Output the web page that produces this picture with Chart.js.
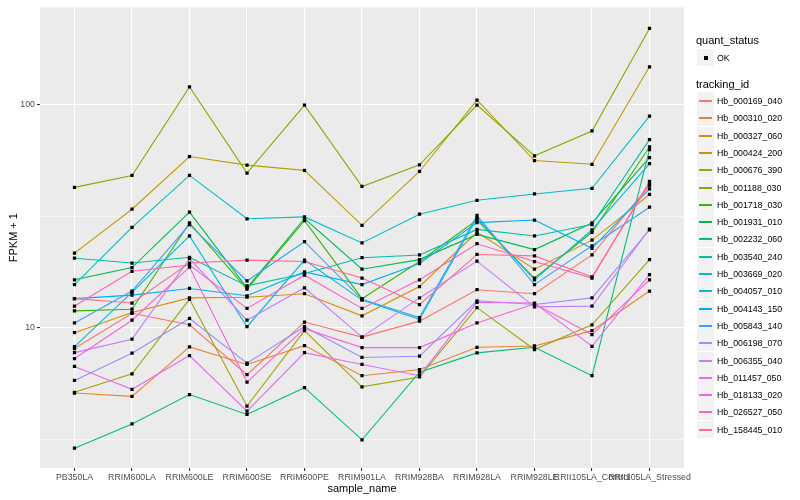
<!DOCTYPE html>
<html>
<head>
<meta charset="utf-8">
<script src="https://cdn.jsdelivr.net/npm/chart.js@4.4.1/dist/chart.umd.min.js"></script>
<style>
  body { margin: 0; background: #fff; font-family: "Liberation Sans", Arial, sans-serif; }
  #wrap { position: relative; width: 800px; height: 500px; }
  #legend { position: absolute; left: 696px; top: 0; }
  .ttl { position: absolute; left: 0; font-size: 11px; color: #000; white-space: nowrap; }
  .key { position: absolute; left: 1px; width: 17px; height: 17px; background: #f2f2f2; }
  .lab { position: absolute; left: 21px; font-size: 8.8px; color: #000; white-space: nowrap; line-height: 10px; }
</style>
</head>
<body>
<div id="wrap">
  <canvas id="chart" width="800" height="500"></canvas>
  <div id="legend"></div>
</div>
<script>
// 샘플 (x축)
const samples = ["PB350LA", "RRIM600LA", "RRIM600LE", "RRIM600SE", "RRIM600PE", "RRIM901LA",
  "RRIM928BA", "RRIM928LA", "RRIM928LE", "RRII105LA_Control", "RRII105LA_Stressed"];

// FPKM + 1 값 (tracking_id 별)
const hb_000169_040 = [8.06, 11.6, 10.3, 6.15, 10.6, 9.07, 10.7, 14.8, 14.2, 21.2, 43.5];
const hb_000310_020 = [5.09, 4.92, 8.20, 6.84, 8.31, 6.09, 6.49, 8.17, 8.28, 9.70, 14.6];
const hb_000327_060 = [9.50, 11.7, 13.6, 13.7, 14.2, 11.3, 15.3, 26.8, 18.3, 24.7, 39.6];
const hb_000424_200 = [21.6, 34.0, 58.6, 53.6, 50.8, 28.8, 50.2, 105, 56.2, 54.1, 148];
const hb_000676_390 = [5.13, 6.21, 13.4, 4.45, 9.70, 5.43, 6.01, 12.3, 7.98, 10.3, 20.2];
const hb_001188_030 = [42.6, 48.2, 120.3, 49.4, 99.7, 43.0, 53.8, 99.7, 59.0, 76.3, 220];
const hb_001718_030 = [11.9, 12.1, 29.5, 14.9, 30.2, 13.5, 19.8, 30.4, 16.7, 26.8, 64.7];
const hb_001931_010 = [16.4, 18.6, 33.0, 15.1, 30.9, 18.3, 20.2, 26.2, 22.4, 29.5, 58.0];
const hb_002232_060 = [2.88, 3.70, 5.01, 4.08, 5.38, 3.14, 6.32, 7.71, 8.17, 6.09, 63.0];
const hb_003540_240 = [20.5, 19.5, 20.7, 15.4, 17.5, 20.6, 21.2, 27.6, 25.8, 29.0, 69.8];
const hb_003669_020 = [15.6, 28.2, 48.2, 30.8, 31.4, 24.0, 32.3, 37.3, 39.8, 42.2, 89.0];
const hb_004057_010 = [8.23, 14.4, 25.8, 10.1, 20.1, 13.3, 10.9, 31.1, 16.4, 27.5, 54.5];
const hb_004143_150 = [13.5, 14.0, 15.0, 13.9, 17.8, 15.6, 19.4, 29.6, 30.4, 22.7, 42.0];
const hb_005843_140 = [10.5, 14.6, 29.0, 16.2, 24.3, 13.4, 11.1, 31.9, 15.6, 23.3, 34.7];
const hb_006198_070 = [5.80, 7.68, 11.0, 6.93, 10.1, 7.35, 7.45, 13.2, 12.7, 13.6, 27.5];
const hb_006355_040 = [7.73, 8.88, 20.4, 10.8, 15.1, 9.07, 13.6, 19.9, 12.4, 12.5, 27.7];
const hb_011457_050 = [6.70, 5.29, 7.50, 4.22, 7.73, 6.84, 6.09, 13.0, 12.9, 8.25, 17.3];
const hb_018133_020 = [7.27, 10.8, 18.7, 5.70, 9.90, 8.14, 8.14, 10.5, 12.8, 9.31, 16.4];
const hb_026527_050 = [12.5, 17.9, 19.1, 12.2, 17.2, 12.2, 16.4, 23.8, 19.8, 16.7, 45.3];
const hb_158445_010 = [13.5, 12.9, 19.5, 20.1, 19.8, 16.7, 12.7, 21.3, 21.0, 16.9, 44.4];

const trackingIds = ["Hb_000169_040", "Hb_000310_020", "Hb_000327_060", "Hb_000424_200",
  "Hb_000676_390", "Hb_001188_030", "Hb_001718_030", "Hb_001931_010", "Hb_002232_060",
  "Hb_003540_240", "Hb_003669_020", "Hb_004057_010", "Hb_004143_150", "Hb_005843_140",
  "Hb_006198_070", "Hb_006355_040", "Hb_011457_050", "Hb_018133_020", "Hb_026527_050",
  "Hb_158445_010"];
const seriesValues = [hb_000169_040, hb_000310_020, hb_000327_060, hb_000424_200,
  hb_000676_390, hb_001188_030, hb_001718_030, hb_001931_010, hb_002232_060,
  hb_003540_240, hb_003669_020, hb_004057_010, hb_004143_150, hb_005843_140,
  hb_006198_070, hb_006355_040, hb_011457_050, hb_018133_020, hb_026527_050,
  hb_158445_010];

const yTicks = [3.1623, 10, 31.623, 100];
const yMajor = [10, 100];

// ggplot 기본 색상 (hue 20개)
const palette = ["#F8766D", "#EA8331", "#D89000", "#C09B00", "#A3A500", "#7CAE00", "#39B600",
  "#00BB4E", "#00BF7D", "#00C1A3", "#00BFC4", "#00BAE0", "#00B0F6", "#35A2FF", "#9590FF",
  "#C77CFF", "#E76BF3", "#FA62DB", "#FF62BC", "#FF6C91"];

const toPoints = (vals) => vals.map((v, i) => ({ x: i, y: v }));

const lineSets = seriesValues.map((vals, k) => ({
  label: trackingIds[k],
  data: toPoints(vals),
  borderColor: palette[k],
  borderWidth: 1.1,
  pointRadius: 0,
  showLine: true,
  fill: false,
  tension: 0,
  order: 100 - k,
}));

// 점은 모든 선 위에 그림
const pointSet = {
  label: "OK",
  data: seriesValues.flatMap(toPoints),
  showLine: false,
  pointStyle: "rect",
  pointRadius: 2.3,
  pointBorderWidth: 0,
  pointBackgroundColor: "#000",
  pointBorderColor: "#000",
  order: 0,
};

const panelBg = {
  id: "panelBg",
  beforeDraw(chart) {
    const { ctx, chartArea: a } = chart;
    ctx.save();
    ctx.fillStyle = "#EBEBEB";
    ctx.fillRect(a.left, a.top, a.right - a.left, a.bottom - a.top);
    ctx.restore();
  },
};

const tickFont = { family: "Liberation Sans", size: 8.8 };
const titleFont = { family: "Liberation Sans", size: 11 };

new Chart(document.getElementById("chart"), {
  type: "scatter",
  data: { datasets: [pointSet, ...lineSets] },
  options: {
    responsive: false,
    animation: false,
    devicePixelRatio: 1,
    layout: { padding: { left: 0, top: 5, right: 116, bottom: 0 } },
    plugins: { legend: { display: false }, tooltip: { enabled: false } },
    scales: {
      x: {
        type: "linear",
        min: -0.6,
        max: 10.6,
        afterBuildTicks: (s) => { s.ticks = samples.map((_, i) => ({ value: i })); },
        afterFit: (s) => { s.height = 32; },
        border: { display: false },
        grid: { color: "#FFFFFF", lineWidth: 1.1, tickLength: 3, tickColor: "#333333" },
        ticks: {
          autoSkip: false, maxRotation: 0, padding: 1, color: "#4D4D4D", font: tickFont,
          callback: (v) => samples[v],
        },
        title: { display: true, text: "sample_name", color: "#000", font: titleFont, padding: { top: 0, bottom: 4.4 } },
      },
      y: {
        type: "logarithmic",
        min: 2.347,
        max: 273.8,
        afterBuildTicks: (s) => { s.ticks = yTicks.map((v) => ({ value: v })); },
        afterFit: (s) => { s.width = 40; },
        border: { display: false },
        grid: {
          color: "#FFFFFF",
          lineWidth: (c) => (yMajor.includes(c.tick && c.tick.value) ? 1.1 : 0.55),
          tickLength: 3,
          tickColor: (c) => (yMajor.includes(c.tick && c.tick.value) ? "#333333" : "rgba(0,0,0,0)"),
        },
        ticks: {
          padding: 2, color: "#4D4D4D", font: tickFont,
          callback: (v) => (yMajor.includes(v) ? String(v) : ""),
        },
        title: { display: true, text: "FPKM + 1", color: "#000", font: titleFont, padding: { top: 7.4, bottom: 0 } },
      },
    },
  },
  plugins: [panelBg],
});

// 범례 (quant_status, tracking_id)
const legend = document.getElementById("legend");
let html = '<div class="ttl" style="top:34px">quant_status</div>';
html += '<div class="key" style="top:49px"><div style="position:absolute;left:7px;top:7px;width:4px;height:4px;background:#000"></div></div>';
html += '<div class="lab" style="top:53px">OK</div>';
html += '<div class="ttl" style="top:78px">tracking_id</div>';
trackingIds.forEach((id, k) => {
  const top = Math.round(92 + k * 17.3);
  html += `<div class="key" style="top:${top}px"><div style="position:absolute;left:2px;width:13px;top:8px;height:2px;background:${palette[k]}"></div></div>`;
  html += `<div class="lab" style="top:${top + 4}px">${id}</div>`;
});
legend.innerHTML = html;
</script>
</body>
</html>
